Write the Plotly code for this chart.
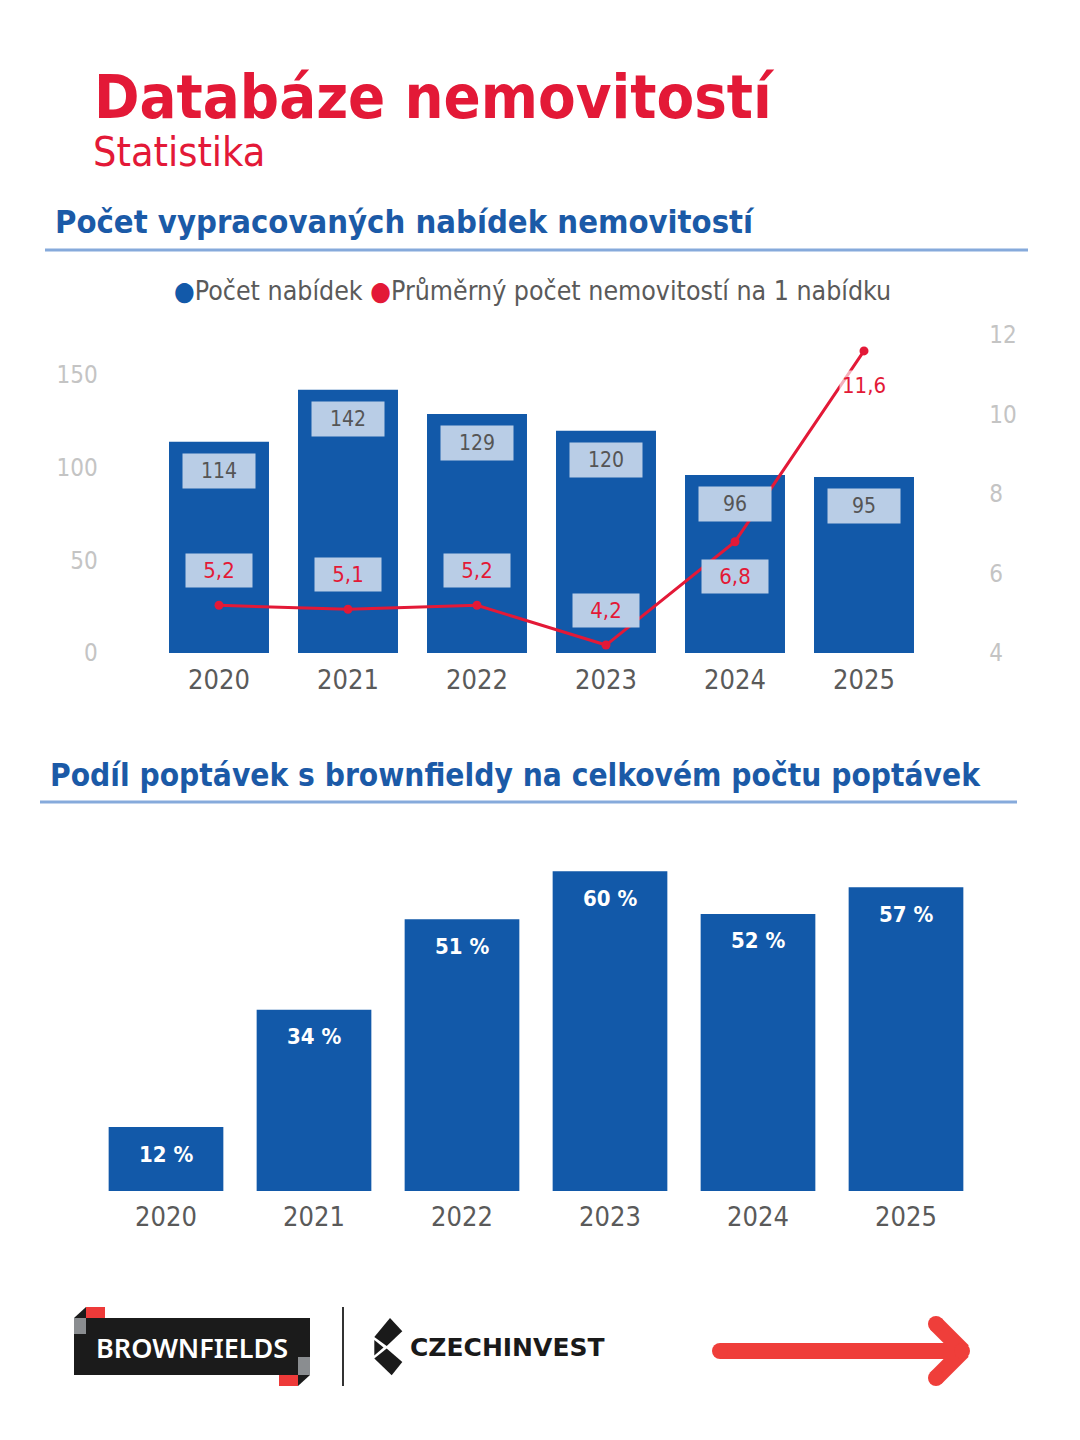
import plotly.graph_objects as go
from plotly.subplots import make_subplots

W, H = 1080, 1440
PAGE_OFFSET = 8  # body margin of the page the figure sits in

YEARS = [2020, 2021, 2022, 2023, 2024, 2025]
OFFERS = [114, 142, 129, 120, 96, 95]
AVG_PROPERTIES = [5.2, 5.1, 5.2, 4.2, 6.8, 11.6]
AVG_LABEL_SIDE = ["above", "above", "above", "above", "below", "below"]
BROWNFIELD_SHARE = [12, 34, 51, 60, 52, 57]

LEFT_TICKS = [0, 50, 100, 150]
RIGHT_TICKS = [4, 6, 8, 10, 12]

FONT = "DejaVu Sans Condensed, DejaVu Sans, sans-serif"
RED = "#e31937"
BLUE_TEXT = "#1b5aa7"
BAR_BLUE = "#1259a9"
BOX_BG = "#b9cde6"
TICK_GREY = "#c4c4c4"
YEAR_GREY = "#5a5a5a"
LINE_BLUE = "#86aadb"
CLEAR = "rgba(0,0,0,0)"


def px(x):
    return (x - PAGE_OFFSET) / W


def py(y):
    return 1 - (y - PAGE_OFFSET) / H


def cz(v):
    return f"{v:.1f}".replace(".", ",")


fig = make_subplots(rows=2, cols=1, specs=[[{"secondary_y": True}], [{}]])

# top chart: offers (bars) + avg properties per offer (line, right axis)
fig.add_trace(go.Bar(
    x=YEARS, y=OFFERS, name="Počet nabídek",
    marker=dict(color=BAR_BLUE, line=dict(width=0)), hoverinfo="skip",
), row=1, col=1, secondary_y=False)
fig.add_trace(go.Scatter(
    x=YEARS, y=AVG_PROPERTIES, name="Průměrný počet nemovitostí na 1 nabídku",
    mode="lines+markers", line=dict(color=RED, width=3),
    marker=dict(color=RED, size=9), hoverinfo="skip",
), row=1, col=1, secondary_y=True)

# bottom chart: brownfield share
fig.add_trace(go.Bar(
    x=YEARS, y=BROWNFIELD_SHARE, name="Podíl",
    marker=dict(color=BAR_BLUE, line=dict(width=0)), hoverinfo="skip",
), row=2, col=1)

annotations = []

for yr, v in zip(YEARS, OFFERS):
    annotations.append(dict(
        x=yr, y=v, xref="x", yref="y", text=str(v), showarrow=False,
        yshift=-29, width=68, height=30, borderpad=2, bgcolor=BOX_BG,
        font=dict(family=FONT, size=21, color="#555555"),
    ))

for yr, v, side in zip(YEARS, AVG_PROPERTIES, AVG_LABEL_SIDE):
    label = dict(
        x=yr, y=v, xref="x", yref="y2", text=cz(v), showarrow=False,
        yshift=35 if side == "above" else -35, borderpad=2,
        font=dict(family=FONT, size=22, color=RED),
    )
    if v < 10:
        label.update(width=62, height=29, bgcolor=BOX_BG)
    else:
        label.update(bgcolor="rgba(255,255,255,0.65)")
    annotations.append(label)

for yr, v in zip(YEARS, BROWNFIELD_SHARE):
    annotations.append(dict(
        x=yr, y=v, xref="x2", yref="y3", text=f"<b>{v} %</b>", showarrow=False,
        yshift=-27, font=dict(family=FONT, size=22, color="white"),
    ))


def text(x, y, s, size, color, anchor="left", family=FONT, weight=None):
    f = dict(family=family, size=size, color=color)
    if weight:
        f["weight"] = weight
    return dict(x=px(x), y=py(y), xref="paper", yref="paper", xanchor=anchor,
                yanchor="middle", text=s, showarrow=False, font=f)


annotations += [
    text(92, 96, "<b>Databáze nemovitostí</b>", 61, RED),
    text(91, 152, "Statistika", 41, RED),
    text(53, 222, "<b>Počet vypracovaných nabídek nemovitostí</b>", 32.5, BLUE_TEXT),
    text(48, 775, "<b>Podíl poptávek s brownfieldy na celkovém počtu poptávek</b>", 31.4, BLUE_TEXT),
    text(532, 291,
         f"<span style='color:{BAR_BLUE}'>●</span>Počet nabídek "
         f"<span style='color:{RED}'>●</span>Průměrný počet nemovitostí na 1 nabídku",
         26.5, "#5a5a5a", anchor="center"),
    # footer texts
    text(192, 1347, "BROWNFIELDS", 27, "white", anchor="center", family="Noto Sans", weight=600),
    text(507, 1347, "<b>CZECHINVEST</b>", 25, "#1a1a1a", anchor="center", family="DejaVu Sans"),
]

shapes = [
    dict(type="line", xref="paper", yref="paper", x0=px(45), x1=px(1028), y0=py(250), y1=py(250),
         line=dict(color=LINE_BLUE, width=3)),
    dict(type="line", xref="paper", yref="paper", x0=px(40), x1=px(1017), y0=py(802), y1=py(802),
         line=dict(color=LINE_BLUE, width=3)),
]


def rect(x0, y0, x1, y1, color):
    return dict(type="rect", xref="paper", yref="paper", x0=px(x0), x1=px(x1),
                y0=py(y1), y1=py(y0), fillcolor=color, line=dict(width=0), layer="above")


def poly(points, color):
    d = "M " + " L ".join(f"{px(x)},{py(y)}" for x, y in points) + " Z"
    return dict(type="path", xref="paper", yref="paper", path=d,
                fillcolor=color, line=dict(width=0), layer="above")


# brownfields logo
shapes += [
    rect(74, 1318, 310, 1375, "#1b1b1b"),
    rect(86, 1307, 105, 1318, "#ee3a39"),
    rect(74, 1318, 86, 1334, "#8a8d90"),
    poly([(74, 1318), (86, 1307), (86, 1318)], "#1b1b1b"),
    rect(298, 1357, 310, 1375, "#8a8d90"),
    rect(279, 1375, 298, 1386, "#ee3a39"),
    poly([(298, 1375), (310, 1375), (298, 1386)], "#1b1b1b"),
    dict(type="line", xref="paper", yref="paper", x0=px(343), x1=px(343), y0=py(1307), y1=py(1386),
         line=dict(color="#333333", width=2)),
]

# czechinvest mark: two tilted squares and a small wedge
shapes += [
    poly([(374.3, 1337), (390, 1318), (402.3, 1331.3), (386.7, 1346)], "#1a1a1a"),
    poly([(374.3, 1358.5), (386.7, 1348.5), (402.3, 1362), (391.7, 1375.3)], "#1a1a1a"),
    poly([(374.3, 1340), (383.5, 1347.5), (374.3, 1355.5)], "#1a1a1a"),
]

# red arrow
ARROW = "#ef3e3a"
AW = 16
shapes += [
    dict(type="line", xref="paper", yref="paper", x0=px(720), x1=px(962), y0=py(1351), y1=py(1351),
         line=dict(color=ARROW, width=AW)),
    dict(type="line", xref="paper", yref="paper", x0=px(936), x1=px(963), y0=py(1324), y1=py(1351),
         line=dict(color=ARROW, width=AW)),
    dict(type="line", xref="paper", yref="paper", x0=px(936), x1=px(963), y0=py(1378), y1=py(1351),
         line=dict(color=ARROW, width=AW)),
]
for cx, cy in [(720, 1351), (936, 1324), (936, 1378), (962, 1351)]:
    r = AW / 2
    shapes.append(dict(type="circle", xref="paper", yref="paper",
                       x0=px(cx - r), x1=px(cx + r), y0=py(cy + r), y1=py(cy - r),
                       fillcolor=ARROW, line=dict(width=0)))

axis_common = dict(showgrid=False, zeroline=False, showline=False, automargin=False)
year_range = [YEARS[0] - 0.5, YEARS[-1] + 0.5]

fig.update_layout(
    width=W, height=H,
    margin=dict(l=0, r=0, t=0, b=0, autoexpand=False),
    paper_bgcolor="white", plot_bgcolor="white",
    showlegend=False, bargap=0.225,
    font=dict(family=FONT),
    annotations=annotations,
    shapes=shapes,
)
fig.update_layout(
    xaxis=dict(domain=[px(154.5), px(928.5)], range=year_range, tickvals=YEARS,
               ticks="outside", ticklen=3, tickcolor=CLEAR,
               tickfont=dict(family=FONT, size=27, color=YEAR_GREY), **axis_common),
    yaxis=dict(domain=[py(653), py(335)], range=[0, (653 - 335) / 1.853],
               tickvals=LEFT_TICKS, ticks="outside", ticklen=51, tickcolor=CLEAR,
               tickfont=dict(family=FONT, size=24, color=TICK_GREY), **axis_common),
    yaxis2=dict(range=[4, 12], tickvals=RIGHT_TICKS,
                ticks="outside", ticklen=55, tickcolor=CLEAR,
                tickfont=dict(family=FONT, size=24, color=TICK_GREY), **axis_common),
    xaxis2=dict(domain=[px(92), px(980)], range=year_range, tickvals=YEARS,
                ticks="outside", ticklen=2, tickcolor=CLEAR,
                tickfont=dict(family=FONT, size=27, color=YEAR_GREY), **axis_common),
    yaxis3=dict(domain=[py(1191), py(850)], range=[0, 64], visible=False),
)

fig.write_html("out.html")
